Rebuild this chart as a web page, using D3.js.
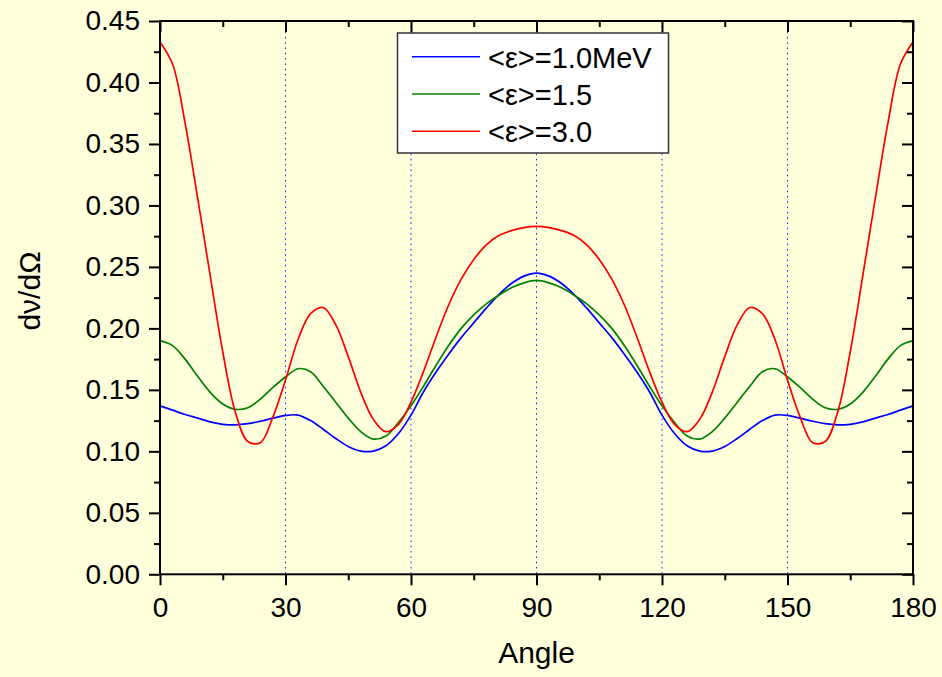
<!DOCTYPE html>
<html>
<head>
<meta charset="utf-8">
<script src="https://cdn.jsdelivr.net/npm/d3@7/dist/d3.min.js"></script>
<style>
  html, body { margin: 0; padding: 0; background: #ffffdc; }
  svg { display: block; }
  text { font-family: Arial, "Liberation Sans", sans-serif; fill: #000; }
</style>
</head>
<body>
<svg id="chart" width="942" height="677"></svg>
<script>
// Angular distribution dν/dΩ for three mean neutrino energies
const angles = [0,3,6,9,12,15,18,21,24,27,30,33,36,39,42,45,48,51,54,57,60,63,66,69,72,75,78,81,84,87,
  90,93,96,99,102,105,108,111,114,117,120,123,126,129,132,135,138,141,144,147,150,153,156,159,162,165,168,171,174,177,180];

const e10 = [0.137,0.1335,0.130,0.127,0.124,0.122,0.1215,0.1225,0.1245,0.127,0.1292,0.1295,0.125,0.118,0.1105,0.104,0.1002,0.1002,0.1045,0.1145,0.1295,0.1485,0.1645,0.179,0.1925,0.2045,0.2165,0.2275,0.2365,0.2425,
  0.245,0.2425,0.2365,0.2275,0.2165,0.2045,0.1925,0.179,0.1645,0.1485,0.1295,0.1145,0.1045,0.1002,0.1002,0.104,0.1105,0.118,0.125,0.1295,0.1292,0.127,0.1245,0.1225,0.1215,0.122,0.124,0.127,0.130,0.1335,0.137];

const e15 = [0.190,0.186,0.175,0.161,0.148,0.1385,0.1342,0.1355,0.1425,0.152,0.1605,0.1672,0.1648,0.153,0.140,0.127,0.116,0.110,0.1125,0.1235,0.137,0.153,0.170,0.186,0.200,0.211,0.220,0.227,0.233,0.237,
  0.239,0.237,0.233,0.227,0.220,0.211,0.200,0.186,0.170,0.153,0.137,0.1235,0.1125,0.110,0.116,0.127,0.140,0.153,0.1648,0.1672,0.1605,0.152,0.1425,0.1355,0.1342,0.1385,0.148,0.161,0.175,0.186,0.190];

const e30 = [0.433,0.415,0.367,0.306,0.243,0.181,0.132,0.108,0.107,0.128,0.158,0.191,0.212,0.217,0.203,0.177,0.148,0.126,0.116,0.122,0.140,0.165,0.193,0.219,0.240,0.256,0.268,0.2755,0.2795,0.282,
  0.283,0.282,0.2795,0.2755,0.268,0.256,0.240,0.219,0.193,0.165,0.140,0.122,0.116,0.126,0.148,0.177,0.203,0.217,0.212,0.191,0.158,0.128,0.107,0.108,0.132,0.181,0.243,0.306,0.367,0.415,0.433];

const seriesNames = ["<\u03b5>=1.0MeV", "<\u03b5>=1.5", "<\u03b5>=3.0"];
const seriesColors = ["#0000ff", "#008000", "#ff0000"];
const seriesValues = [e10, e15, e30];

const xTicks = [0, 30, 60, 90, 120, 150, 180];
const xMinor = [15, 45, 75, 105, 135, 165];
const yTicks = [0, 0.05, 0.10, 0.15, 0.20, 0.25, 0.30, 0.35, 0.40, 0.45];
const yMinor = [0.025, 0.075, 0.125, 0.175, 0.225, 0.275, 0.325, 0.375, 0.425];
const guideAngles = [30, 60, 90, 120, 150];

const svg = d3.select("#chart");
const plotLeft = 160, plotRight = 913, plotTop = 21, plotBottom = 574.3;

const x = d3.scaleLinear().domain([0, 180]).range([plotLeft, plotRight]);
const y = d3.scaleLinear().domain([0, 0.45]).range([plotBottom, plotTop]);

// dotted guide lines
svg.append("g").selectAll("line").data(guideAngles).join("line")
  .attr("x1", d => x(d)).attr("x2", d => x(d))
  .attr("y1", y(0.45)).attr("y2", y(0))
  .attr("stroke", "#2020ff").attr("stroke-width", 1)
  .attr("stroke-dasharray", "1.6,3.7");

// curves
const line = d3.line()
  .x((d, i) => x(angles[i]))
  .y(d => y(d))
  .curve(d3.curveCatmullRom.alpha(0.5));

svg.append("g").selectAll("path").data(seriesValues).join("path")
  .attr("d", d => line(d))
  .attr("fill", "none")
  .attr("stroke", (d, i) => seriesColors[i])
  .attr("stroke-width", 1.7);

// axes
function styleAxis(g) {
  g.select(".domain").remove();
  g.selectAll(".tick line").attr("stroke", "#000").attr("stroke-width", 2);
  g.selectAll(".tick text").style("font-size", "28px");
}

svg.append("g").attr("transform", `translate(0,${plotBottom})`)
  .call(d3.axisBottom(x).tickValues(xTicks).tickSize(11).tickPadding(12).tickFormat(d3.format("d")))
  .call(styleAxis);
svg.append("g").attr("transform", `translate(0,${plotBottom})`)
  .call(d3.axisBottom(x).tickValues(xMinor).tickSize(6).tickFormat(""))
  .call(styleAxis);

svg.append("g").attr("transform", `translate(${plotLeft},0)`)
  .call(d3.axisLeft(y).tickValues(yTicks).tickSize(11).tickPadding(9).tickFormat(d3.format(".2f")))
  .call(styleAxis);
svg.append("g").attr("transform", `translate(${plotLeft},0)`)
  .call(d3.axisLeft(y).tickValues(yMinor).tickSize(6).tickFormat(""))
  .call(styleAxis);

// mirrored inner ticks on top and right
svg.append("g").attr("transform", `translate(0,${plotTop})`)
  .call(d3.axisTop(x).tickValues(xTicks).tickSize(-11).tickFormat(""))
  .call(styleAxis);
svg.append("g").attr("transform", `translate(0,${plotTop})`)
  .call(d3.axisTop(x).tickValues(xMinor).tickSize(-6).tickFormat(""))
  .call(styleAxis);
svg.append("g").attr("transform", `translate(${plotRight},0)`)
  .call(d3.axisRight(y).tickValues(yTicks).tickSize(-11).tickFormat(""))
  .call(styleAxis);
svg.append("g").attr("transform", `translate(${plotRight},0)`)
  .call(d3.axisRight(y).tickValues(yMinor).tickSize(-6).tickFormat(""))
  .call(styleAxis);

// frame
svg.append("rect")
  .attr("x", plotLeft).attr("y", plotTop)
  .attr("width", plotRight - plotLeft).attr("height", plotBottom - plotTop)
  .attr("fill", "none").attr("stroke", "#000").attr("stroke-width", 2);

// axis titles
svg.append("text")
  .attr("x", (plotLeft + plotRight) / 2).attr("y", 663)
  .attr("text-anchor", "middle").style("font-size", "30px")
  .text("Angle");
svg.append("text")
  .attr("transform", `translate(40,291) rotate(-90)`)
  .attr("text-anchor", "middle").style("font-size", "30px")
  .text("d\u03bd/d\u03a9");

// legend
const legend = svg.append("g");
legend.append("rect")
  .attr("x", 397.5).attr("y", 33).attr("width", 271).attr("height", 120)
  .attr("fill", "#fff").attr("stroke", "#333").attr("stroke-width", 1.5);
const rowsY = [56.7, 94, 131.3];
const rows = legend.selectAll("g.row").data(seriesNames).join("g").attr("class", "row");
rows.append("line")
  .attr("x1", 412).attr("x2", 480)
  .attr("y1", (d, i) => rowsY[i]).attr("y2", (d, i) => rowsY[i])
  .attr("stroke", (d, i) => seriesColors[i]).attr("stroke-width", 1.5);
rows.append("text")
  .attr("x", 488).attr("y", (d, i) => rowsY[i] + 11)
  .style("font-size", "29px")
  .text(d => d);
</script>
</body>
</html>
